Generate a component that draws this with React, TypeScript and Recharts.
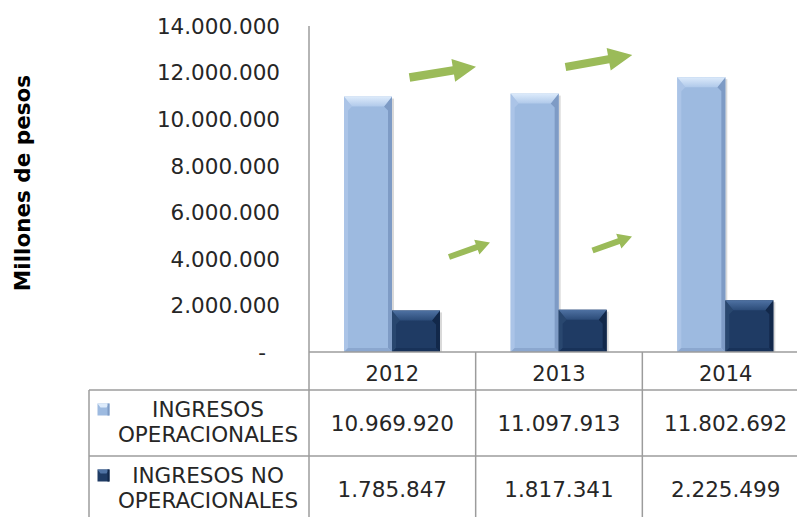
import { BarChart, Bar, XAxis, YAxis } from 'recharts';

const years = ['2012', '2013', '2014'];
const ingresosOperacionales = [10969920, 11097913, 11802692];
const ingresosNoOperacionales = [1785847, 1817341, 2225499];
const yTicks = [0, 2000000, 4000000, 6000000, 8000000, 10000000, 12000000, 14000000];
const rowLabels = [
  ['INGRESOS', 'OPERACIONALES'],
  ['INGRESOS NO', 'OPERACIONALES'],
];

const data = years.map((y, i) => ({
  year: y,
  op: ingresosOperacionales[i],
  noOp: ingresosNoOperacionales[i],
}));

// layout (pixels)
const CHART_W = 830;
const CHART_H = 390;
const AXIS_W = 309;
const PLOT_TOP = 26;
const PLOT_RIGHT_MARGIN = 21;
const PLOT_LEFT = AXIS_W;
const PLOT_RIGHT = CHART_W - PLOT_RIGHT_MARGIN;
const BASE_Y = 352;
const BAND = (PLOT_RIGHT - PLOT_LEFT) / years.length;
const ROW1_TOP = 390;
const ROW2_TOP = 456;
const TABLE_LEFT = 89;
const PAGE_W = 797;
const PAGE_H = 517;

const FONT = '"DejaVu Sans", Verdana, sans-serif';
const TEXT = '#262626';
const LINE = '#9c9c9c';
const GREEN = '#9BBB59';

const palettes = {
  light: { face: '#9DBAE0', top1: '#DDEBFB', top2: '#B0C9EA', left: '#ABC4E7', right: '#7E9BC5', bottom: '#8BA7CF' },
  dark: { face: '#1F3B64', top1: '#4F72A3', top2: '#2C4C79', left: '#29476F', right: '#12284A', bottom: '#183259' },
};

// decorative arrows: tail, tip, shaft width, head width, head length
const arrows = [
  { tail: [409.5, 77.5], tip: [476, 66.7], shaft: 8.5, head: 23, headLen: 23 },
  { tail: [565.5, 67], tip: [632.3, 55], shaft: 8, head: 23, headLen: 24 },
  { tail: [449, 257], tip: [490, 242.5], shaft: 6, head: 15.5, headLen: 14 },
  { tail: [592.5, 250.5], tip: [632, 236.5], shaft: 6, head: 15.5, headLen: 14 },
];

const fmt = (v: number) => String(v).replace(/\B(?=(\d{3})+(?!\d))/g, '.');

function arrowPoints(a: (typeof arrows)[number]) {
  const [x0, y0] = a.tail;
  const [x1, y1] = a.tip;
  const len = Math.hypot(x1 - x0, y1 - y0);
  const ux = (x1 - x0) / len;
  const uy = (y1 - y0) / len;
  const nx = -uy;
  const ny = ux;
  const bx = x1 - ux * a.headLen;
  const by = y1 - uy * a.headLen;
  const s = a.shaft / 2;
  const h = a.head / 2;
  const pts = [
    [x0 + nx * s, y0 + ny * s],
    [bx + nx * s, by + ny * s],
    [bx + nx * h, by + ny * h],
    [x1, y1],
    [bx - nx * h, by - ny * h],
    [bx - nx * s, by - ny * s],
    [x0 - nx * s, y0 - ny * s],
  ];
  return pts.map((p) => p.join(',')).join(' ');
}

function BevelBar(props: any) {
  const { x, y, width: w, height: h, index, kind } = props;
  if (!h || h <= 0) return null;
  const p = palettes[kind as 'light' | 'dark'];
  const t = Math.min(10, h / 2);
  const c = Math.min(8, w / 4);
  const s = 4;
  const id = `bev-${kind}-${index}`;
  return (
    <g>
      <defs>
        <linearGradient id={id} x1="0" y1="0" x2="0" y2="1">
          <stop offset="0%" stopColor={p.top1} />
          <stop offset="100%" stopColor={p.top2} />
        </linearGradient>
      </defs>
      <rect x={x + 2} y={y + 2} width={w} height={h - 2} fill="#000" opacity={0.15} />
      <rect x={x} y={y} width={w} height={h} fill={p.face} />
      <polygon points={`${x},${y} ${x + c},${y + t} ${x + s},${y + t + 4} ${x + s},${y + h - s} ${x},${y + h}`} fill={p.left} />
      <polygon points={`${x + w},${y} ${x + w},${y + h} ${x + w - s},${y + h - s} ${x + w - s},${y + t + 4} ${x + w - c},${y + t}`} fill={p.right} />
      <polygon points={`${x},${y + h} ${x + s},${y + h - s} ${x + w - s},${y + h - s} ${x + w},${y + h}`} fill={p.bottom} />
      <polygon points={`${x},${y} ${x + w},${y} ${x + w - c},${y + t} ${x + c},${y + t}`} fill={`url(#${id})`} />
    </g>
  );
}

function YTick(props: any) {
  const { x, y, payload } = props;
  const v = payload.value as number;
  return (
    <text x={v === 0 ? x - 14 : x} y={y + 7.8} textAnchor="end" fill={TEXT} fontSize={21.5} fontFamily={FONT}>
      {v === 0 ? '-' : fmt(v)}
    </text>
  );
}

function XTick(props: any) {
  const { x, y, payload } = props;
  return (
    <text x={x} y={y + 28.5} textAnchor="middle" fill={TEXT} fontSize={21} fontFamily={FONT}>
      {payload.value}
    </text>
  );
}

function Marker({ x, y, kind }: { x: number; y: number; kind: 'light' | 'dark' }) {
  const p = palettes[kind];
  return (
    <g>
      <rect x={x} y={y} width={12} height={12} fill={p.face} />
      <polygon points={`${x},${y} ${x + 12},${y} ${x + 9},${y + 4} ${x + 3},${y + 4}`} fill={p.top1} />
      <rect x={x + 10} y={y} width={2} height={12} fill={p.right} />
    </g>
  );
}

function DataTable() {
  const rows = [ingresosOperacionales, ingresosNoOperacionales];
  const rowTops = [ROW1_TOP, ROW2_TOP];
  const kinds: ('light' | 'dark')[] = ['light', 'dark'];
  const labelCx = 208;
  return (
    <g fontFamily={FONT} fill={TEXT}>
      {/* grid lines */}
      <line x1={PLOT_LEFT} y1={BASE_Y} x2={PLOT_LEFT} y2={PAGE_H} stroke={LINE} strokeWidth={1.5} />
      {years.map((_, i) =>
        i > 0 ? (
          <line key={i} x1={PLOT_LEFT + BAND * i} y1={BASE_Y} x2={PLOT_LEFT + BAND * i} y2={PAGE_H} stroke={LINE} strokeWidth={1.5} />
        ) : null,
      )}
      <line x1={TABLE_LEFT} y1={ROW1_TOP} x2={PAGE_W} y2={ROW1_TOP} stroke={LINE} strokeWidth={1.5} />
      <line x1={TABLE_LEFT} y1={ROW2_TOP} x2={PAGE_W} y2={ROW2_TOP} stroke={LINE} strokeWidth={1.5} />
      <line x1={TABLE_LEFT} y1={ROW1_TOP} x2={TABLE_LEFT} y2={PAGE_H} stroke={LINE} strokeWidth={1.5} />
      {rows.map((vals, r) => (
        <g key={r}>
          <Marker x={97.5} y={rowTops[r] + 13.5} kind={kinds[r]} />
          <text x={labelCx} y={rowTops[r] + 26.5} textAnchor="middle" fontSize={21.5}>
            {rowLabels[r][0]}
          </text>
          <text x={labelCx} y={rowTops[r] + 51.5} textAnchor="middle" fontSize={21.5}>
            {rowLabels[r][1]}
          </text>
          {vals.map((v, i) => (
            <text key={i} x={PLOT_LEFT + BAND * (i + 0.5)} y={rowTops[r] + 40.8} textAnchor="middle" fontSize={21.5}>
              {fmt(v)}
            </text>
          ))}
        </g>
      ))}
    </g>
  );
}

export default function App() {
  return (
    <div
      style={{
        position: 'fixed',
        left: 0,
        top: 0,
        width: PAGE_W,
        height: PAGE_H,
        overflow: 'hidden',
        background: '#fff',
      }}
    >
      <div style={{ position: 'absolute', left: 0, top: 0 }}>
        <BarChart
          width={CHART_W}
          height={CHART_H}
          data={data}
          margin={{ top: PLOT_TOP, right: PLOT_RIGHT_MARGIN, bottom: 0, left: 0 }}
          barCategoryGap="21%"
          barGap={0}
        >
          <XAxis
            dataKey="year"
            height={CHART_H - BASE_Y}
            axisLine={{ stroke: LINE, strokeWidth: 1.5 }}
            tickLine={false}
            tickSize={0}
            tickMargin={0}
            tick={<XTick />}
          />
          <YAxis
            width={AXIS_W}
            domain={[0, 14000000]}
            ticks={yTicks}
            interval={0}
            axisLine={{ stroke: LINE, strokeWidth: 1.5 }}
            tickLine={false}
            tickSize={0}
            tickMargin={29}
            tick={<YTick />}
          />
          <Bar dataKey="op" isAnimationActive={false} shape={(p: any) => <BevelBar {...p} kind="light" />} />
          <Bar dataKey="noOp" isAnimationActive={false} shape={(p: any) => <BevelBar {...p} kind="dark" />} />
        </BarChart>
      </div>
      <svg
        width={PAGE_W}
        height={PAGE_H}
        style={{ position: 'absolute', left: 0, top: 0, pointerEvents: 'none' }}
      >
        <text
          transform="translate(22,183) rotate(-90)"
          textAnchor="middle"
          dominantBaseline="central"
          fontFamily={FONT}
          fontWeight="bold"
          fontSize={21.5}
          fill="#000"
        >
          Millones de pesos
        </text>
        {arrows.map((a, i) => (
          <polygon key={i} points={arrowPoints(a)} fill={GREEN} />
        ))}
        <DataTable />
      </svg>
    </div>
  );
}
